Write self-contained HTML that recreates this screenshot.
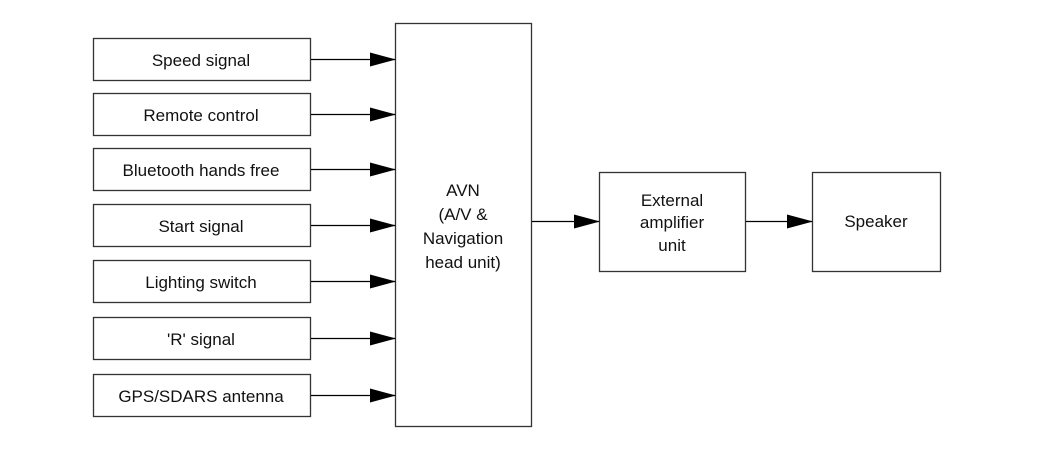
<!DOCTYPE html>
<html><head><style>body{margin:0;background:#fff}</style></head><body>
<svg width="1050" height="450" xmlns="http://www.w3.org/2000/svg" font-family="Liberation Sans, sans-serif" font-size="17" fill="#111">
<defs><marker id="a" markerWidth="26" markerHeight="14" refX="25" refY="7" orient="auto" markerUnits="userSpaceOnUse"><path d="M0,0 L26,7 L0,14 Z" fill="#000"/></marker></defs>
<g stroke="#333" stroke-width="1.3" fill="none">
<rect x="93.5" y="38.5" width="217" height="42"/>
<rect x="93.5" y="93.5" width="217" height="42"/>
<rect x="93.5" y="148.5" width="217" height="42"/>
<rect x="93.5" y="204.5" width="217" height="42"/>
<rect x="93.5" y="260.5" width="217" height="42"/>
<rect x="93.5" y="317.5" width="217" height="42"/>
<rect x="93.5" y="374.5" width="217" height="42"/>
<rect x="395.5" y="23.5" width="136" height="403"/>
<rect x="599.5" y="172.5" width="146" height="99"/>
<rect x="812.5" y="172.5" width="128" height="99"/>
</g>
<g stroke="#000" stroke-width="1.3" marker-end="url(#a)">
<line x1="311" y1="59.5" x2="395" y2="59.5"/>
<line x1="311" y1="114.5" x2="395" y2="114.5"/>
<line x1="311" y1="169.5" x2="395" y2="169.5"/>
<line x1="311" y1="225.5" x2="395" y2="225.5"/>
<line x1="311" y1="281.5" x2="395" y2="281.5"/>
<line x1="311" y1="338.5" x2="395" y2="338.5"/>
<line x1="311" y1="395.5" x2="395" y2="395.5"/>
<line x1="532" y1="221.5" x2="599" y2="221.5"/>
<line x1="746" y1="221.5" x2="812" y2="221.5"/>
</g>
<g text-anchor="middle">
<text x="201" y="66">Speed signal</text>
<text x="201" y="121">Remote control</text>
<text x="201" y="176">Bluetooth hands free</text>
<text x="201" y="232">Start signal</text>
<text x="201" y="288">Lighting switch</text>
<text x="201" y="345">'R' signal</text>
<text x="201" y="402">GPS/SDARS antenna</text>
<text x="463" y="196">AVN</text>
<text x="463" y="220">(A/V &amp;</text>
<text x="463" y="244">Navigation</text>
<text x="463" y="268">head unit)</text>
<text x="672" y="206">External</text>
<text x="672" y="228">amplifier</text>
<text x="672" y="251">unit</text>
<text x="876" y="227">Speaker</text>
</g>
</svg>
</body></html>
